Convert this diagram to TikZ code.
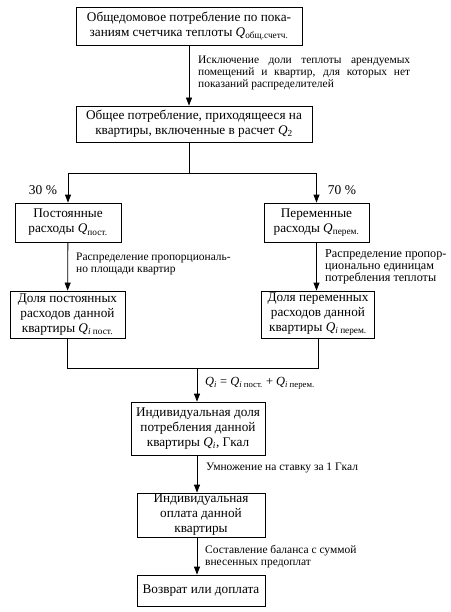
\documentclass[tikz,border=0pt]{standalone}
\usepackage{fontspec}
\setmainfont{Liberation Serif}
\usepackage{tikz}
\usetikzlibrary{positioning}
\usetikzlibrary{arrows.meta}

\newcommand{\Qsub}[1]{\textit{Q}\textsubscript{#1}}

\tikzset{
    stage/.style={draw, line width=0.8bp, align=center, inner sep=0pt, font=\fontsize{13.3}{15}\selectfont},
    note/.style={anchor=west, align=left, inner sep=0pt, font=\fontsize{11.5}{12.5}\selectfont},
    wide note/.style={note, align=justify, text width=#1},
    share/.style={inner sep=0pt, font=\fontsize{13.5}{15}\selectfont},
    flow/.style={line width=0.8bp, -{Triangle[length=8bp,width=6bp]}},
    link/.style={line width=0.8bp},
}

\begin{document}
\begin{tikzpicture}[x=1bp, y=-1bp]
    \useasboundingbox (0,0) rectangle (451,612);

    \node[stage, minimum width=226bp, minimum height=38bp] (total) at (189,26) {Общедомовое потребление по пока-\\заниям счетчика теплоты \Qsub{общ.счетч.}};
    \node[stage, minimum width=236bp, minimum height=36bp] (flat) at (194,124) {Общее потребление, приходящееся на\\квартиры, включенные в расчет \Qsub{2}};

    \node[stage, minimum width=106bp, minimum height=39bp] (fixed) at (68,222.5) {Постоянные\\расходы \Qsub{пост.}};
    \node[stage, minimum width=105bp, minimum height=39bp] (var) at (316.5,222.5) {Переменные\\расходы \Qsub{перем.}};

    \node[stage, minimum width=115bp, minimum height=47bp] (fixedshare) at (67.5,314.5) {Доля постоянных\\расходов данной\\квартиры \Qsub{\textit{i} пост.}};
    \node[stage, minimum width=113bp, minimum height=47bp] (varshare) at (318,314.5) {Доля переменных\\расходов данной\\квартиры \Qsub{\textit{i} перем.}};

    \node[stage, minimum width=134bp, minimum height=53bp] (indiv) at (198,428.5) {Индивидуальная доля\\потребления данной\\квартиры \textit{Q\textsubscript{i}}, Гкал};
    \node[stage, minimum width=128bp, minimum height=44bp] (pay) at (201,515) {Индивидуальная\\оплата данной\\квартиры};
    \node[stage, minimum width=128bp, minimum height=31bp] (result) at (201,590.5) {Возврат или доплата};

    \coordinate (split) at (189,173);
    \coordinate (merge) at (197,368);

    \draw[flow] (total) -- (total.south |- flat.north);
    \draw[link] (total.south |- flat.south) -- (split);
    \draw[flow] (split) -| (fixed);
    \draw[flow] (split) -| (var);
    \draw[flow] (fixed) -- (fixedshare);
    \draw[flow] (var) -- (var.south |- varshare.north);
    \draw[link] (fixedshare) |- (merge);
    \draw[link] (varshare) |- (merge);
    \draw[flow] (merge) -- (merge |- indiv.north);
    \draw[flow] (merge |- indiv.south) -- (merge |- pay.north);
    \draw[flow] (merge |- pay.south) -- (merge |- result.north);

    \node[share] (fixedpct) at (43,190) {30 \%};
    \node[share] (varpct) at (342,190) {70 \%};

    \node[wide note=212bp] (exclnote) at (198,73) {Исключение доли теплоты арендуемых\linebreak помещений и квартир, для которых нет\linebreak показаний распределителей};
    \node[note] (areanote) at (76,264) {Распределение пропорциональ-\\но площади квартир};
    \node[note, font=\fontsize{12.2}{12.3}\selectfont] (unitnote) at (325,267) {Распределение пропор-\\ционально единицам\\потребления теплоты};
    \node[note, font=\fontsize{12.5}{14}\selectfont] (sumnote) at (205,383) {\textit{Q\textsubscript{i}} = \Qsub{\textit{i} пост.} + \Qsub{\textit{i} перем.}};
    \node[note] (ratenote) at (206,468) {Умножение на ставку за 1 Гкал};
    \node[note] (balnote) at (205,556.5) {Составление баланса с суммой\\внесенных предоплат};
\end{tikzpicture}
\end{document}
